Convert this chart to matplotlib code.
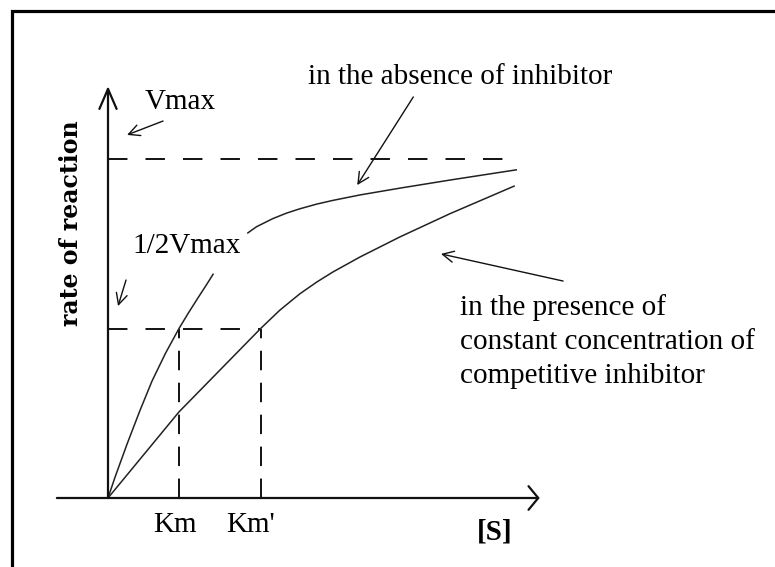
import matplotlib
matplotlib.use("Agg")
import matplotlib.pyplot as plt
from matplotlib.patches import Rectangle

plt.rcParams['lines.scale_dashes'] = False

# Michaelis-Menten sketch: [S] in units of Km, rate in units of Vmax
vmax = 1.0
half_vmax = vmax / 2
km = 1.0
km_inhibited = 2.15
s_axis_end = 5.80          # right end of the Vmax guide line

# rate without inhibitor (curve broken where the 1/2Vmax label sits)
s_free_low = [0.0, 0.10, 0.27, 0.45, 0.62, 0.81, 1.0, 1.13, 1.26, 1.39, 1.48]
v_free_low = [0.0, 0.062, 0.16, 0.258, 0.345, 0.427, 0.5, 0.545, 0.588,
              0.630, 0.66]
s_free_high = [1.97, 2.09, 2.32, 2.51, 2.70, 2.94, 3.17, 3.55, 4.11, 4.82, 5.75]
v_free_high = [0.782, 0.800, 0.824, 0.840, 0.853, 0.867, 0.878, 0.894,
               0.914, 0.938, 0.968]

# rate with a constant concentration of competitive inhibitor
s_inhib = [0.0, 1.0, 2.15, 2.42, 2.70, 2.94, 3.17, 3.55, 4.11, 4.82, 5.72]
v_inhib = [0.0, 0.254, 0.5, 0.554, 0.602, 0.637, 0.667, 0.711, 0.770,
           0.839, 0.920]

tick_labels = ["Km", "Km'"]
x_label = "[S]"
y_label = "rate of reaction"
label_free = "in the absence of inhibitor"
label_inhib = ["in the presence of",
               "constant concentration of",
               "competitive inhibitor"]

W, H, DPI = 775, 567, 100
ORIGIN_X, ORIGIN_Y = 108, 498      # pixel position of the origin
SCALE_X, SCALE_Y = 71.0, 339.0     # pixels per unit

fig = plt.figure(figsize=(W / DPI, H / DPI), dpi=DPI, facecolor='white')
ax = fig.add_axes([0, 0, 1, 1])
ax.set_xlim(-ORIGIN_X / SCALE_X, (W - ORIGIN_X) / SCALE_X)
ax.set_ylim(-(H - ORIGIN_Y) / SCALE_Y, ORIGIN_Y / SCALE_Y)
ax.axis('off')

serif = 'Liberation Serif'
ink = '#111111'

# outer frame (top and left edges visible)
fig.add_artist(Rectangle((12 / W, -0.05), 1.2, (1 - 11 / H) + 0.05,
                         transform=fig.transFigure, fill=False,
                         ec='black', lw=2.3))

# axes with open arrowheads
ax.annotate('', xy=(0, 1.215), xytext=(0, 0),
            arrowprops=dict(arrowstyle='->,head_length=1.44,head_width=0.62',
                            mutation_scale=10, lw=1.6, color=ink,
                            shrinkA=0, shrinkB=0))
ax.annotate('', xy=(6.08, 0), xytext=(-0.72, 0),
            arrowprops=dict(arrowstyle='->,head_length=0.7,head_width=0.85',
                            mutation_scale=10, lw=1.6, color=ink,
                            shrinkA=0, shrinkB=0))

# guide lines
dash = dict(color=ink, lw=1.4, dashes=(14, 13))
ax.plot([0, s_axis_end], [vmax, vmax], **dash)
ax.plot([0, km_inhibited], [half_vmax, half_vmax], **dash)
vdash = dict(color=ink, lw=1.4, dashes=(14, 9))
ax.plot([km, km], [0, half_vmax], **vdash)
ax.plot([km_inhibited, km_inhibited], [0, half_vmax], **vdash)

# curves
curve = dict(color='#222222', lw=1.1, solid_joinstyle='round')
ax.plot(s_free_low, v_free_low, **curve)
ax.plot(s_free_high, v_free_high, **curve)
ax.plot(s_inhib, v_inhib, **curve)

# labels
fs = 21
ax.text(0.52, 1.147, "Vmax", fontfamily=serif, fontsize=fs, va='baseline')
ax.text(0.34, 0.723, "1/2Vmax", fontfamily=serif, fontsize=fs, va='baseline')
ax.text(2.82, 1.221, label_free, fontfamily=serif, fontsize=fs, va='baseline')
for i, line in enumerate(label_inhib):
    ax.text(4.96, 0.54 - i * 0.1, line, fontfamily=serif, fontsize=fs,
            va='baseline')
ax.text(km - 0.056, -0.100, tick_labels[0], fontfamily=serif, fontsize=fs,
        va='baseline', ha='center')
ax.text(1.66, -0.100, tick_labels[1], fontfamily=serif, fontsize=fs,
        va='baseline', ha='left')
ax.text(5.45, -0.121, x_label, fontfamily=serif, fontsize=fs,
        fontweight='bold', va='baseline', ha='center')
ax.text(-0.52, 0.811, y_label, fontfamily='DejaVu Serif', fontsize=17,
        fontweight='bold', rotation=90, va='center', ha='center')

# pointer arrows
pointer = dict(arrowstyle='->,head_length=0.8,head_width=0.4',
               mutation_scale=10, lw=1.0, color=ink, shrinkA=0, shrinkB=0)
ax.annotate('', xy=(0.268, 1.071), xytext=(0.775, 1.112), arrowprops=pointer)
ax.annotate('', xy=(0.141, 0.566), xytext=(0.254, 0.643), arrowprops=pointer)
ax.annotate('', xy=(3.51, 0.923), xytext=(4.30, 1.183), arrowprops=pointer)
ax.annotate('', xy=(4.69, 0.720), xytext=(6.41, 0.640), arrowprops=pointer)

fig.savefig('out.png', dpi=DPI, facecolor='white')
